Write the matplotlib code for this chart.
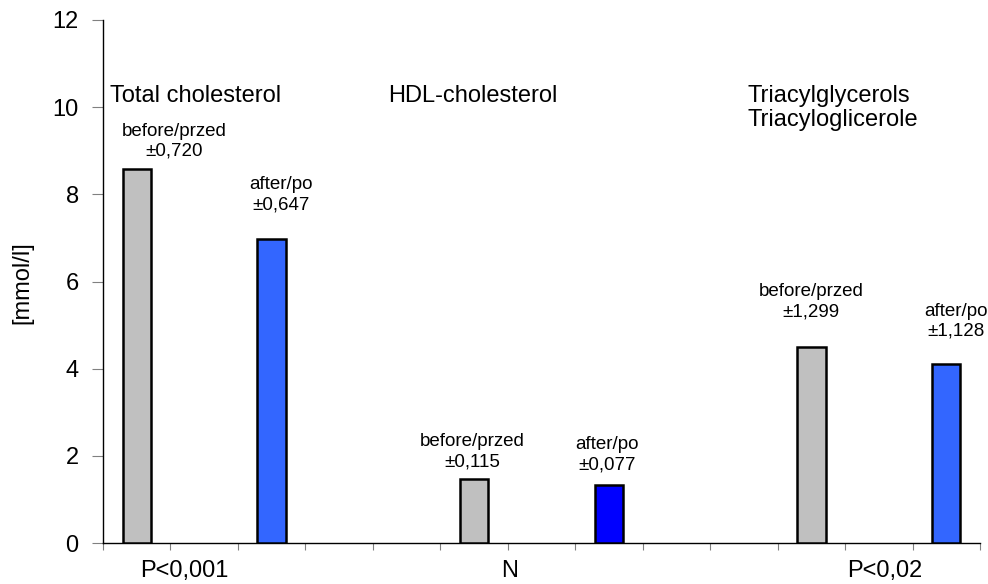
import matplotlib
matplotlib.use("Agg")
import matplotlib.pyplot as plt
import matplotlib.transforms as mtransforms

plt.rcParams['font.family'] = ['Liberation Sans', 'DejaVu Sans']

# Data
n_slots = 13
bar_slots = [0, 2, 5, 7, 10, 12]
bar_values = [8.58, 6.98, 1.47, 1.33, 4.50, 4.10]
bar_colors = ['#C0C0C0', '#3366FF', '#C0C0C0', '#0000FF', '#C0C0C0', '#3366FF']
bar_labels = ['before/przed\n±0,720', 'after/po\n±0,647',
              'before/przed\n±0,115', 'after/po\n±0,077',
              'before/przed\n±1,299', 'after/po\n±1,128']
label_x = [0.55, 2.14, 4.97, 6.97, 10.0, 12.15]
label_y = [9.22, 7.99, 2.09, 2.02, 5.53, 5.09]

group_titles = ['Total cholesterol', 'HDL-cholesterol', 'Triacylglycerols\nTriacyloglicerole']
title_x = [-0.396, 3.72, 9.06]
title_y = [10.26, 10.26, 9.98]

p_labels = ['P<0,001', 'N', 'P<0,02']
p_x = [0.70, 5.53, 11.09]

y_ticks = [0, 2, 4, 6, 8, 10, 12]

fig = plt.figure(figsize=(9.88, 5.84), dpi=100)
ax = fig.add_axes([103/988, 1 - 543/584, (980-103)/988, (543-20)/584])

ax.bar(bar_slots, bar_values, width=0.42, color=bar_colors,
       edgecolor='black', linewidth=1.8, zorder=3)

ax.set_xlim(-0.5, n_slots - 0.5)
ax.set_ylim(0, 12)
ax.set_yticks(y_ticks)
ax.set_yticklabels([str(t) for t in y_ticks], fontsize=17)
ax.tick_params(axis='y', direction='out', length=8, color='#808080', pad=9.5)
ax.set_xticks([i - 0.5 for i in range(n_slots + 1)])
ax.set_xticklabels([])
ax.tick_params(axis='x', direction='out', length=5, color='#808080')

for s in ['top', 'right']:
    ax.spines[s].set_visible(False)
for s in ['left', 'bottom']:
    ax.spines[s].set_linewidth(1.0)
    ax.spines[s].set_color('black')

fig.text(22/988, 1 - 283/584, '[mmol/l]', rotation=90, ha='center', va='center',
         fontsize=17)

for x, y, t in zip(label_x, label_y, bar_labels):
    ax.text(x, y, t, ha='center', va='center', fontsize=13.5, linespacing=1.25)

for x, y, t in zip(title_x, title_y, group_titles):
    ax.text(x, y, t, ha='left', va='center', fontsize=17, linespacing=1.1)

trans = mtransforms.blended_transform_factory(ax.transData, ax.transAxes)
for x, t in zip(p_x, p_labels):
    ax.text(x, -0.0535, t, ha='center', va='center', fontsize=17, transform=trans)

fig.savefig('out.png', dpi=100)
